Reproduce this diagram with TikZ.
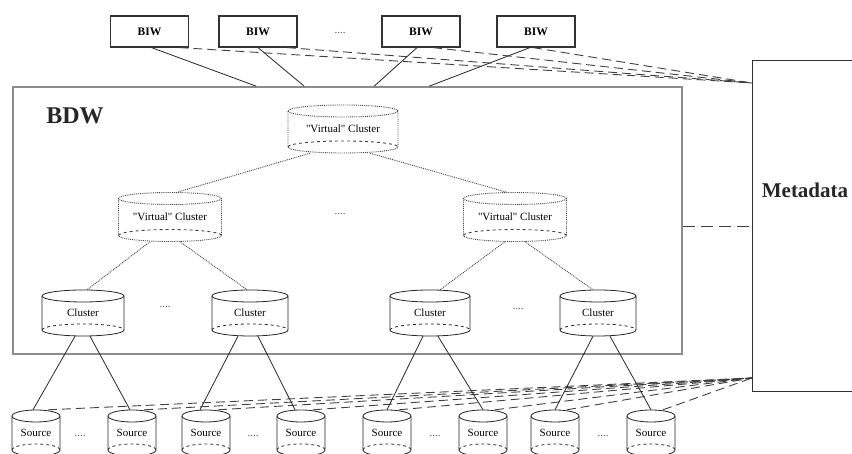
\documentclass[tikz,border=0pt]{standalone}
\usepackage{fontspec}
\setmainfont{Liberation Serif}
\usepackage{tikz}
\tikzset{
  biwbox/.style={draw=black!80, line width=1.2pt, minimum width=78, minimum height=31, inner sep=0pt, font=\fontsize{11.5}{13}\selectfont\bfseries},
  cylbox/.style={inner sep=0pt, font=\fontsize{11}{13}\selectfont},
  solidcyl/.style={line width=0.8pt, black!85},
  dotcyl/.style={line width=0.9pt, densely dotted, black!75},
  dotsnode/.style={inner sep=0pt, font=\fontsize{11}{13}\selectfont, text=black!65},
  metaline/.style={black!75, line width=0.9pt, dash pattern=on 9pt off 5pt},
  dotline/.style={line width=0.9pt, densely dotted, black!75},
  solidline/.style={line width=0.8pt, black!85}
}

%cylinder: style, name, centre, width, height, text
\newcommand{\dbcyl}[6][solidcyl]{%
  \node[cylbox, minimum width=#4, minimum height=#5] (#2) at (#3) {#6};
  \begin{scope}[shift={(#2.center)}]
    \draw[#1] (0,{#5/2-6}) ellipse [x radius={#4/2}, y radius=6];
    \draw[#1] ({-#4/2},{#5/2-6}) -- ({-#4/2},{-#5/2+6}) arc[start angle=180, end angle=360, x radius={#4/2}, y radius=6] -- ({#4/2},{#5/2-6});
    \draw[#1, dashed] ({-#4/2},{-#5/2+6}) arc[start angle=180, end angle=0, x radius={#4/2}, y radius=6];
  \end{scope}}

\begin{document}
\begin{tikzpicture}[x=1pt, y=1pt]
\useasboundingbox (0,0) rectangle (852,454);

%BIW boxes
\node[biwbox] (biw1) at (149.5,422.5) {BIW};
\node[biwbox] (biw2) at (258,422.5) {BIW};
\node[dotsnode] (biwdots) at (340,421) {....};
\node[biwbox] (biw3) at (421,422.5) {BIW};
\node[biwbox] (biw4) at (536,422.5) {BIW};

%BDW and Metadata
\node[draw=black!45, line width=1.6pt, minimum width=669, minimum height=267, inner sep=0pt] (bdw) at (347.5,233.5) {};
\node[font=\fontsize{24}{28}\selectfont\bfseries, text=black!85] (bdwlabel) at (75,338) {BDW};
\node[draw=black!80, line width=1pt, minimum width=106, minimum height=331, inner sep=0pt] (meta) at (805,227.5) {};
\node[font=\fontsize{21}{25}\selectfont\bfseries, text=black!85] (metalabel) at (805,264) {Metadata};
\coordinate (metatop) at (752,371);
\coordinate (metabot) at (752,76);

%"Virtual" clusters
\dbcyl[dotcyl]{vtop}{343,325}{110}{48}{\textquotedbl Virtual\textquotedbl{} Cluster}
\dbcyl[dotcyl]{vleft}{170,237}{103}{49}{\textquotedbl Virtual\textquotedbl{} Cluster}
\dbcyl[dotcyl]{vright}{515,237}{103}{49}{\textquotedbl Virtual\textquotedbl{} Cluster}
\node[dotsnode] (vdots) at (340,240) {....};

%Clusters
\dbcyl{cl1}{83,141}{82}{46}{Cluster}
\dbcyl{cl2}{250,141}{76}{46}{Cluster}
\dbcyl{cl3}{430,141}{80}{46}{Cluster}
\dbcyl{cl4}{598,141}{76}{46}{Cluster}
\node[dotsnode] (cldots1) at (165,147) {....};
\node[dotsnode] (cldots2) at (518,145) {....};

%Sources
\foreach \i/\x in {1/36, 2/132, 3/206, 4/301, 5/387, 6/483, 7/555, 8/651}
  \dbcyl{src\i}{\x,21}{48}{46}{Source};
\foreach \i/\x in {1/80, 2/253, 3/435, 4/603}
  \node[dotsnode] (srcdots\i) at (\x,18) {....};

%BIW to BDW
\draw[solidline] ([xshift=2]biw1.south) -- ([xshift=244]bdw.north west);
\draw[solidline] (biw2.south) -- ([xshift=292]bdw.north west);
\draw[solidline] ([xshift=-4]biw3.south) -- ([xshift=362]bdw.north west);
\draw[solidline] ([xshift=-6]biw4.south) -- ([xshift=417]bdw.north west);

%links to Metadata
\draw[metaline] ([xshift=30]biw1.south) -- (metatop);
\draw[metaline] ([xshift=29]biw2.south) -- (metatop);
\draw[metaline] ([xshift=12]biw3.south) -- (metatop);
\draw[metaline] ([xshift=-3]biw4.south) -- (metatop);
\draw[metaline, dash pattern=on 12pt off 6pt] (bdw.east |- meta.west) -- (meta.west);
\foreach \i in {1,...,8}
  \draw[metaline] ([xshift=12]src\i.north) -- (metabot);

%"Virtual" hierarchy
\draw[dotline] ([xshift=-33]vtop.south) -- ([xshift=7]vleft.north);
\draw[dotline] ([xshift=27]vtop.south) -- ([xshift=-8]vright.north);
\draw[dotline] ([xshift=-20]vleft.south) -- ([xshift=4]cl1.north);
\draw[dotline] ([xshift=10]vleft.south) -- ([xshift=-3]cl2.north);
\draw[dotline] ([xshift=-10]vright.south) -- ([xshift=10]cl3.north);
\draw[dotline] ([xshift=10]vright.south) -- ([xshift=-5]cl4.north);

%Clusters to sources
\draw[solidline] ([xshift=-8]cl1.south) -- ([xshift=-3]src1.north);
\draw[solidline] ([xshift=7]cl1.south) -- ([xshift=-2]src2.north);
\draw[solidline] ([xshift=-12]cl2.south) -- ([xshift=-6]src3.north);
\draw[solidline] ([xshift=8]cl2.south) -- ([xshift=-6]src4.north);
\draw[solidline] ([xshift=-7]cl3.south) -- (src5.north);
\draw[solidline] ([xshift=8]cl3.south) -- (src6.north);
\draw[solidline] ([xshift=-5]cl4.south) -- (src7.north);
\draw[solidline] ([xshift=12]cl4.south) -- (src8.north);

\end{tikzpicture}
\end{document}
